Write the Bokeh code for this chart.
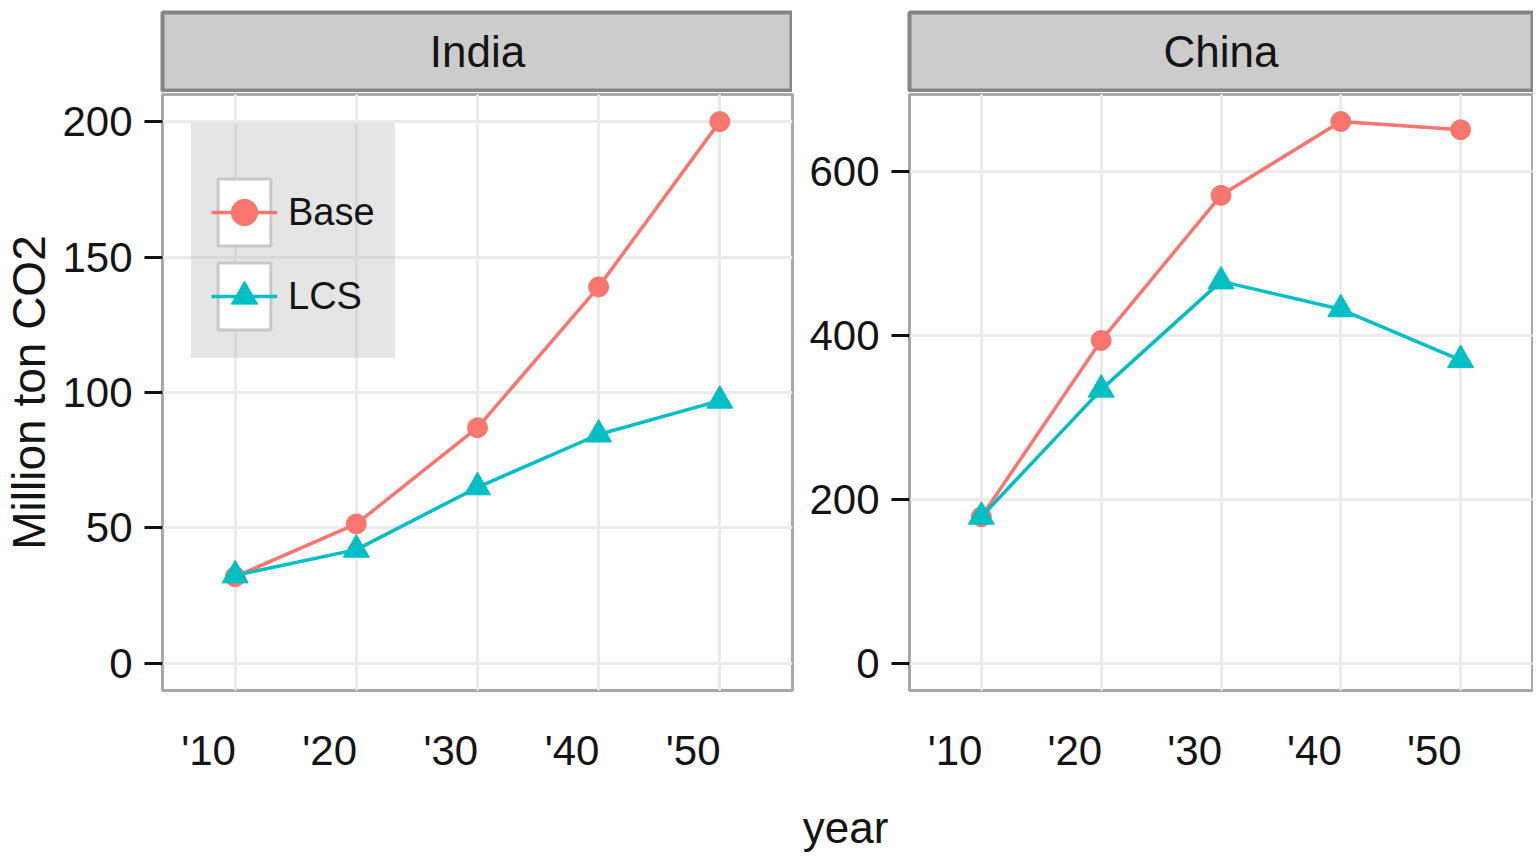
from bokeh.plotting import figure
from bokeh.models import Range1d, FixedTicker, Legend, LegendItem, Label, ColumnDataSource
from bokeh.layouts import column, row
from bokeh.embed import file_html
from bokeh.resources import INLINE

# ---------------- data ----------------
years = ["'10", "'20", "'30", "'40", "'50"]
regions = ["India", "China"]
scenarios = ["Base", "LCS"]
india_base = [32, 51.5, 87, 139, 200]
india_lcs = [32.5, 42, 65, 84.5, 97]
china_base = [179, 394, 571, 661, 651]
china_lcs = [179, 334, 466, 432, 370]
india_yticks = [0, 50, 100, 150, 200]
china_yticks = [0, 200, 400, 600]

# ---------------- style ----------------
COLORS = {"Base": "#F8766D", "LCS": "#00BFC4"}
FONT = "'Liberation Sans', Arial, sans-serif"
TXT = "#141414"
FRAME_H = 596
LABEL_SHIFT = 0.22  # tick labels sit left of their gridlines (as in the reference)


def make_strip(name, left, fw, right):
    s = figure(frame_width=fw, frame_height=78, min_border_left=left, min_border_right=right,
               min_border_top=12, min_border_bottom=2, x_range=Range1d(0, 1), y_range=Range1d(0, 1),
               x_axis_location=None, y_axis_location=None, toolbar_location=None,
               output_backend="svg", background_fill_color="#CCCCCC",
               outline_line_color="#858585", outline_line_width=4)
    s.grid.visible = False
    s.add_layout(Label(x=0.5, y=0.5, text=name, text_align="center", text_baseline="middle",
                       text_font=FONT, text_font_size="44px", text_color=TXT))
    return s


def make_panel(base, lcs, yticks, yr, left, fw, right, ylabel=None, legend=False):
    xs = [i + 1 for i in range(len(years))]
    p = figure(frame_width=fw, frame_height=FRAME_H, min_border_left=left, min_border_right=right,
               min_border_top=2, min_border_bottom=100,
               x_range=Range1d(0.4, len(years) + 0.6), y_range=Range1d(*yr),
               toolbar_location=None, output_backend="svg",
               outline_line_color="#A8A8A8", outline_line_width=3)
    # grid
    p.xgrid.ticker = FixedTicker(ticks=xs)
    p.ygrid.ticker = FixedTicker(ticks=yticks)
    p.grid.grid_line_color = "#EBEBEB"
    p.grid.grid_line_width = 3
    # x axis (labels only)
    shifted = [x - LABEL_SHIFT for x in xs]
    p.xaxis.ticker = FixedTicker(ticks=shifted)
    p.xaxis.major_label_overrides = {t: lab for t, lab in zip(shifted, years)}
    p.xaxis.major_tick_out = 0
    p.xaxis.major_tick_in = 0
    p.xaxis.major_tick_line_color = None
    p.xaxis.minor_tick_line_color = None
    p.xaxis.axis_line_color = None
    p.xaxis.major_label_standoff = 36
    p.xaxis.major_label_text_font = FONT
    p.xaxis.major_label_text_font_size = "42px"
    p.xaxis.major_label_text_color = TXT
    # y axis
    p.yaxis.ticker = FixedTicker(ticks=yticks)
    p.yaxis.axis_line_color = None
    p.yaxis.minor_tick_line_color = None
    p.yaxis.major_tick_in = 0
    p.yaxis.major_tick_out = 18
    p.yaxis.major_tick_line_width = 3
    p.yaxis.major_tick_line_color = "#111111"
    p.yaxis.major_label_standoff = 12
    p.yaxis.major_label_text_font = FONT
    p.yaxis.major_label_text_font_size = "42px"
    p.yaxis.major_label_text_color = TXT
    if ylabel:
        p.yaxis.axis_label = ylabel
        p.yaxis.axis_label_text_font = FONT
        p.yaxis.axis_label_text_font_size = "46px"
        p.yaxis.axis_label_text_font_style = "normal"
        p.yaxis.axis_label_text_color = TXT
        p.yaxis.axis_label_standoff = 4

    src = ColumnDataSource(dict(x=xs, Base=base, LCS=lcs))
    rend = {}
    markers = {"Base": ("circle", 20), "LCS": ("triangle", 26)}
    for sc in scenarios:
        ln = p.line("x", sc, source=src, line_color=COLORS[sc], line_width=3.5)
        mk, sz = markers[sc]
        pt = p.scatter("x", sc, source=src, marker=mk, size=sz,
                       fill_color=COLORS[sc], line_color=COLORS[sc])
        rend[sc] = (ln, pt)

    if legend:
        # legend-key background (white box with grey border); never drawn in the plot itself
        key = p.quad(left="x", right="x", top="Base", bottom="Base", source=src,
                     fill_color="white", line_color="#C8C8C8", line_width=3)
        key.visible = False
        items = [LegendItem(label=sc, renderers=[key, rend[sc][0], rend[sc][1]]) for sc in scenarios]
        lg = Legend(items=items, location="top_left", margin=29, padding=20, spacing=0,
                    glyph_width=66, glyph_height=84, label_standoff=11,
                    label_text_font=FONT, label_text_font_size="38px", label_text_color=TXT,
                    title=" ", title_text_font_size="18px", title_standoff=6,
                    background_fill_color="#BFBFBF", background_fill_alpha=0.4,
                    border_line_color="#E3E3E3", border_line_alpha=0.0)
        p.add_layout(lg)
    return p


strip_in = make_strip(regions[0], 157, 630, 5)
panel_in = make_panel(india_base, india_lcs, india_yticks, (-10, 210), 157, 630, 5,
                      ylabel="Million ton CO2", legend=True)
strip_cn = make_strip(regions[1], 112, 623, 1)
panel_cn = make_panel(china_base, china_lcs, china_yticks, (-33, 694), 112, 623, 1)

year_fig = figure(width=1528, height=66, x_range=Range1d(8, 1536), y_range=Range1d(0, 66),
                  min_border=0, x_axis_location=None, y_axis_location=None,
                  toolbar_location=None, output_backend="svg", outline_line_color=None)
year_fig.grid.visible = False
year_fig.add_layout(Label(x=853, y=29, text="year", text_align="center", text_baseline="middle",
                          text_font=FONT, text_font_size="44px", text_color=TXT))

layout = column(row(column(strip_in, panel_in), column(strip_cn, panel_cn)), year_fig)

open("out.html", "w").write(file_html(layout, INLINE))
